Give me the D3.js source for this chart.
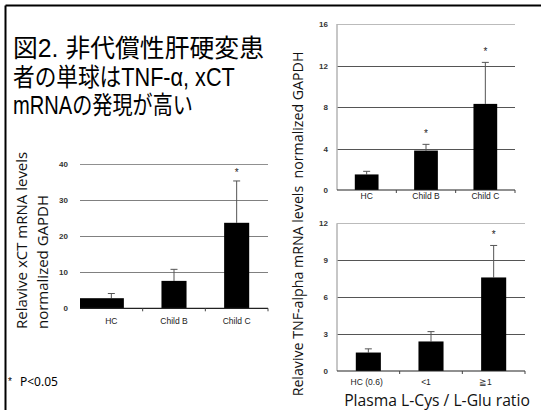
<!DOCTYPE html>
<html><head><meta charset="utf-8">
<script src="https://cdn.jsdelivr.net/npm/d3@7"></script>
<style>
html,body{margin:0;padding:0;background:#fff;}
svg{display:block;}
</style></head>
<body>
<script>
// ---- data ----
const titleLines = ["図2. 非代償性肝硬変患", "者の単球はTNF-α, xCT", "mRNAの発現が高い"];
const noteText = "P<0.05";

const xctCategories = ["HC", "Child B", "Child C"];
const xctMeans = [2.8, 7.6, 23.7];
const xctUpper = [4.1, 10.8, 35.3];
const xctSignificant = [false, false, true];
const xctTicks = [0, 10, 20, 30, 40];
const xctTitle = ["Relavive xCT mRNA levels", "normalized GAPDH"];

const tnfChildCategories = ["HC", "Child B", "Child C"];
const tnfChildMeans = [1.5, 3.8, 8.3];
const tnfChildUpper = [1.8, 4.4, 12.3];
const tnfChildSignificant = [false, true, true];
const tnfChildTicks = [0, 4, 8, 12, 16];

const tnfRatioCategories = ["HC (0.6)", "<1", "≧1"];
const tnfRatioMeans = [1.5, 2.4, 7.6];
const tnfRatioUpper = [1.8, 3.2, 10.2];
const tnfRatioSignificant = [false, false, true];
const tnfRatioTicks = [0, 3, 6, 9, 12];

const tnfTitle = "Relavive TNF-alpha mRNA levels  normalized GAPDH";
const ratioTitle = "Plasma L-Cys / L-Glu ratio";

// ---- drawing ----
const W = 541, H = 410;
const svg = d3.select("body").append("svg").attr("width", W).attr("height", H);

// frame
svg.append("line").attr("x1", 5.5).attr("y1", 5.5).attr("x2", W).attr("y2", 5.5)
  .attr("stroke", "#000").attr("stroke-width", 2);
svg.append("line").attr("x1", 5.5).attr("y1", 5.5).attr("x2", 5.5).attr("y2", H)
  .attr("stroke", "#000").attr("stroke-width", 2);

// title lines, each fitted to the reference line width
const titleMaxWidths = [251, 222, 180];
titleLines.forEach((line, i) => {
  const t = svg.append("text").attr("x", 0).attr("y", 0).attr("fill", "#000")
    .attr("font-family", "'Liberation Sans', 'Noto Sans CJK JP', sans-serif")
    .attr("font-size", 25).style("white-space", "pre").text(line);
  const len = t.node().getComputedTextLength();
  const sx = Math.min(1, titleMaxWidths[i] / len);
  t.attr("transform", `translate(13,${57 + i * 28.5}) scale(${sx},1)`);
});

// note
svg.append("text").attr("x", 8).attr("y", 385).attr("font-family", "'Liberation Sans', Arial, sans-serif")
  .attr("font-size", 10).text("*");
svg.append("text").attr("x", 20).attr("y", 386).attr("font-family", "'Noto Sans', sans-serif")
  .attr("font-size", 12).text(noteText);

function drawChart(cfg) {
  const g = svg.append("g");
  const x = d3.scaleBand().domain(cfg.cats).range([cfg.left, cfg.right])
    .paddingInner(0.6).paddingOuter(0.3);
  const xl = d3.scaleBand().domain(cfg.cats).range([cfg.left, cfg.labelRight || cfg.right])
    .paddingInner(0.6).paddingOuter(0.3);
  const y = d3.scaleLinear().domain([0, d3.max(cfg.ticks)]).range([cfg.bottom, cfg.top]);

  // gridlines
  cfg.ticks.filter(t => t > 0).forEach(t => {
    g.append("line").attr("x1", cfg.left).attr("x2", cfg.right)
      .attr("y1", Math.round(y(t)) + 0.5).attr("y2", Math.round(y(t)) + 0.5)
      .attr("stroke", t === d3.max(cfg.ticks) ? cfg.topGrid : cfg.grid).attr("stroke-width", 1);
  });
  // y axis line
  if (cfg.yLine) {
    g.append("line").attr("x1", cfg.left).attr("x2", cfg.left)
      .attr("y1", y(d3.max(cfg.ticks))).attr("y2", cfg.bottom)
      .attr("stroke", "#b4b4b4").attr("stroke-width", 1.5);
  }
  // y tick labels
  const ya = g.append("g").attr("transform", `translate(${cfg.left},0)`)
    .call(d3.axisLeft(y).tickValues(cfg.ticks).tickSize(0).tickPadding(cfg.yPad).tickFormat(d3.format("d")));
  ya.select(".domain").remove();
  ya.selectAll("text").attr("font-family", "'Liberation Sans', Arial, sans-serif")
    .attr("font-size", 8).attr("font-weight", "bold").attr("fill", "#333");

  // bars
  cfg.means.forEach((v, i) => {
    const c = cfg.cats[i];
    const cx = x(c) + x.bandwidth() / 2;
    g.append("line").attr("x1", cx).attr("x2", cx).attr("y1", y(v)).attr("y2", y(cfg.upper[i]))
      .attr("stroke", "#555").attr("stroke-width", 1);
    g.append("line").attr("x1", cx - 3.5).attr("x2", cx + 3.5)
      .attr("y1", y(cfg.upper[i])).attr("y2", y(cfg.upper[i]))
      .attr("stroke", "#555").attr("stroke-width", 1);
    const bx0 = (cfg.firstFromAxis && i === 0) ? cfg.left : x(c);
    const bx1 = x(c) + x.bandwidth();
    g.append("rect").attr("x", bx0).attr("y", y(v)).attr("width", bx1 - bx0)
      .attr("height", y(0) - y(v)).attr("fill", "#000");
    if (cfg.sig[i]) {
      g.append("text").attr("x", cx).attr("y", y(cfg.upper[i]) - cfg.starGap).attr("text-anchor", "middle")
        .attr("font-family", "'Liberation Sans', Arial, sans-serif").attr("font-size", 10)
        .attr("fill", "#222").text("*");
    }
  });

  // x axis baseline
  g.append("line").attr("x1", cfg.left).attr("x2", cfg.right)
    .attr("y1", cfg.bottom).attr("y2", cfg.bottom).attr("stroke", "#222").attr("stroke-width", 1.2);
  // band boundary ticks
  cfg.cats.forEach((c) => {
    const bx = x(c) - x.step() * x.paddingOuter() + x.step();
    g.append("line").attr("x1", bx).attr("x2", bx).attr("y1", cfg.bottom).attr("y2", cfg.bottom + 3)
      .attr("stroke", "#444").attr("stroke-width", 1);
  });
  // x labels
  const xa = g.append("g").attr("transform", `translate(0,${cfg.bottom})`)
    .call(d3.axisBottom(xl).tickSize(0).tickPadding(cfg.xPad));
  xa.select(".domain").remove();
  xa.selectAll("text").attr("font-family", "'Liberation Sans', Arial, sans-serif")
    .attr("font-size", 8.5).attr("fill", "#222");
  return {x, y};
}

drawChart({cats: xctCategories, means: xctMeans, upper: xctUpper, sig: xctSignificant, ticks: xctTicks,
  left: 80, right: 268, top: 164, bottom: 308.3, grid: "#808080", topGrid: "#909090",
  yLine: false, yPad: 12, xPad: 10, starGap: 5, firstFromAxis: true});
drawChart({cats: tnfChildCategories, means: tnfChildMeans, upper: tnfChildUpper, sig: tnfChildSignificant, ticks: tnfChildTicks,
  left: 337, right: 515, top: 24, bottom: 190, grid: "#555", topGrid: "#bbb",
  yLine: true, yPad: 9, xPad: 3, starGap: 7});
drawChart({cats: tnfRatioCategories, means: tnfRatioMeans, upper: tnfRatioUpper, sig: tnfRatioSignificant, ticks: tnfRatioTicks,
  left: 337, right: 525, labelRight: 515, top: 223.3, bottom: 371, grid: "#555", topGrid: "#bbb",
  yLine: true, yPad: 9, xPad: 8, starGap: 7});

// axis titles
const calib = "'Open Sans', 'Noto Sans', sans-serif";
xctTitle.forEach((t, i) => {
  svg.append("text").attr("transform", `translate(${27 + i * 21},329) rotate(-90)`)
    .attr("font-family", calib).attr("font-size", 15).attr("fill", "#111").text(t);
});
svg.append("text").attr("transform", `translate(303,224) rotate(-90)`).attr("text-anchor", "middle")
  .style("white-space", "pre")
  .attr("font-family", calib).attr("font-size", 14.2).attr("fill", "#111").text(tnfTitle);
svg.append("text").attr("x", 437).attr("y", 405.5).attr("text-anchor", "middle")
  .attr("font-family", calib).attr("font-size", 15.7).attr("fill", "#111").text(ratioTitle);
</script>
</body></html>
